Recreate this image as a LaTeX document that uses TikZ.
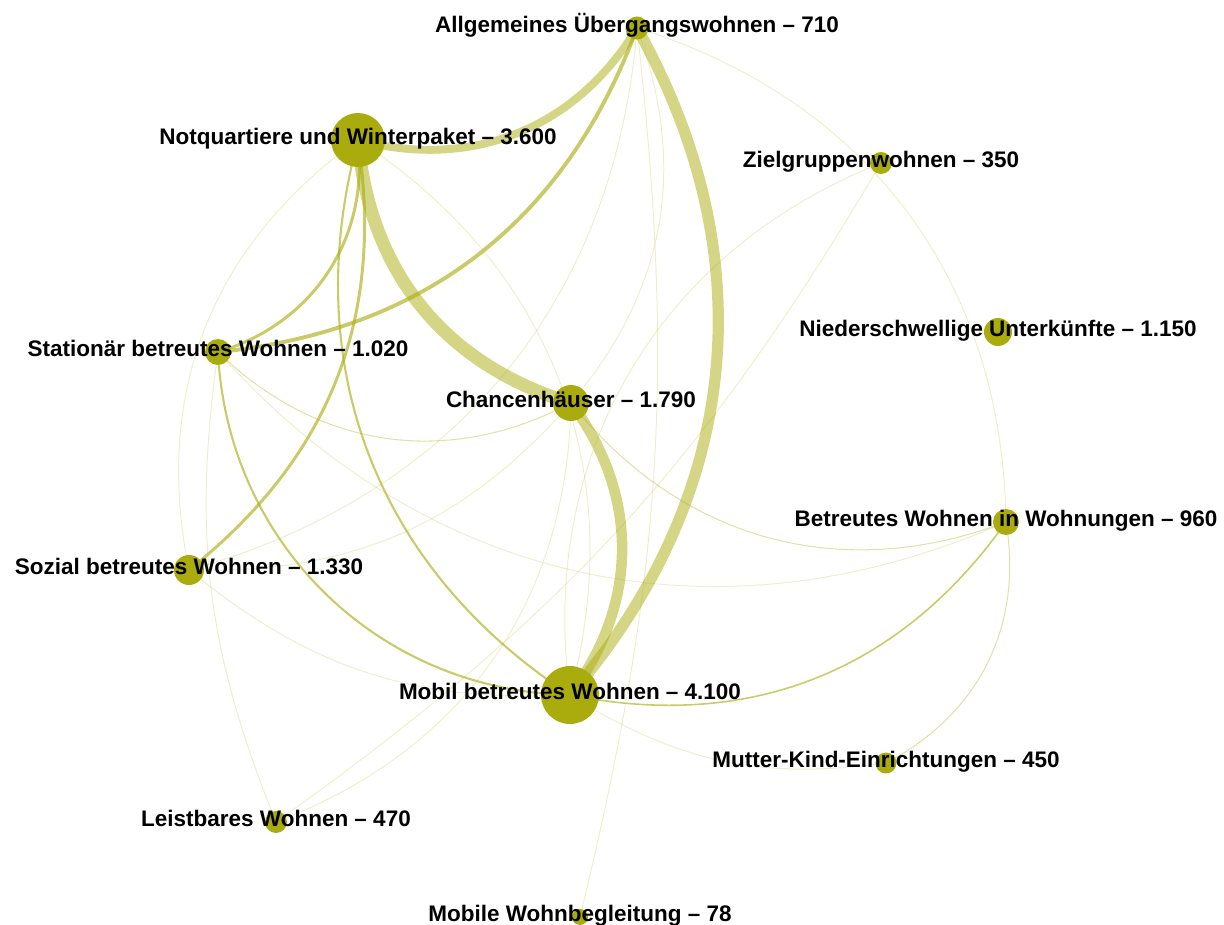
\documentclass[tikz,border=0pt]{standalone}
\usepackage{fontspec}
\setmainfont{Liberation Sans}
\definecolor{olv}{RGB}{170,171,12}
\pgfdeclarelayer{bg}
\pgfsetlayers{bg,main}
\tikzset{
  hub/.style={circle, fill=olv, inner sep=0pt, minimum size=#1*0.04cm},
  lbl/.style={anchor=base, yshift=-2.3pt, inner sep=0pt, font=\fontsize{12.8}{14}\selectfont\bfseries},
  lnk/.style={olv, line cap=round},
  thk/.style={lnk, draw opacity=0.5, line width=#1},
  med/.style={lnk, draw opacity=0.62, line width=#1},
  lite/.style={lnk, draw opacity=0.35, line width=0.6pt},
  fnt/.style={lnk, draw opacity=0.2, line width=0.55pt},
}

\begin{document}
\begin{tikzpicture}[x=0.02cm, y=-0.02cm]
  \useasboundingbox (0,0) rectangle (1224,925);
  % --- nodes ---
  \node[hub=11.5] (auw) at (637,28) {};
  \node[hub=27]   (nq)  at (358,140) {};
  \node[hub=11]   (zg)  at (881,163) {};
  \node[hub=14]   (ns)  at (998,332) {};
  \node[hub=13]   (st)  at (218,352) {};
  \node[hub=18]   (ch)  at (571,403) {};
  \node[hub=13]   (bww) at (1006,522) {};
  \node[hub=15]   (so)  at (189,570) {};
  \node[hub=29]   (mb)  at (570,695) {};
  \node[hub=10.5] (mk)  at (886,763) {};
  \node[hub=11]   (lw)  at (276,822) {};
  \node[hub=8]    (mwb) at (580,917) {};

  % --- labels ---
  \node[lbl] (auw-t) at (auw) {Allgemeines Übergangswohnen – 710};
  \node[lbl] (nq-t)  at (nq)  {Notquartiere und Winterpaket – 3.600};
  \node[lbl] (zg-t)  at (zg)  {Zielgruppenwohnen – 350};
  \node[lbl] (ns-t)  at (ns)  {Niederschwellige Unterkünfte – 1.150};
  \node[lbl] (st-t)  at (st)  {Stationär betreutes Wohnen – 1.020};
  \node[lbl] (ch-t)  at (ch)  {Chancenhäuser – 1.790};
  \node[lbl] (bww-t) at (bww) {Betreutes Wohnen in Wohnungen – 960};
  \node[lbl] (so-t)  at (so)  {Sozial betreutes Wohnen – 1.330};
  \node[lbl] (mb-t)  at (mb)  {Mobil betreutes Wohnen – 4.100};
  \node[lbl] (mk-t)  at (mk)  {Mutter-Kind-Einrichtungen – 450};
  \node[lbl] (lw-t)  at (lw)  {Leistbares Wohnen – 470};
  \node[lbl] (mwb-t) at (mwb) {Mobile Wohnbegleitung – 78};

  \begin{pgfonlayer}{bg}
    % --- heavy links ---
    \draw[thk=7.4pt] (nq.center) to[bend right=34] (ch.center);
    \draw[thk=6.4pt] (auw.center) to[bend left=35] (mb.center);
    \draw[thk=6pt]   (ch.center) to[bend left=37] (mb.center);
    \draw[thk=4.5pt] (nq.center) to[bend right=37] (auw.center);
    % --- medium links ---
    \draw[med=2.2pt] (auw.center) to[bend left=32] (st.center);
    \draw[med=1.7pt] (nq.center) to[bend left=40] (st.center);
    \draw[med=1.7pt] (nq.center) to[bend left=30] (so.center);
    \draw[med=1.2pt] (nq.center) to[bend right=36] (mb.center);
    \draw[med=1.2pt] (st.center) to[bend right=43] (mb.center);
    \draw[med=0.9pt] (mb.center) to[bend right=33] (bww.center);
    % --- light links ---
    \foreach \a/\b/\ang in {st/ch/-36, ch/bww/-36, bww/mk/36}
      \draw[lite] (\a.center) to[bend left=\ang] (\b.center);
    \foreach \a/\b/\ang in {so/ch/-25, auw/so/35, st/bww/-36, auw/bww/36,
        auw/mwb/10, mb/mk/-20, so/mb/-21, st/lw/-15, lw/zg/-12, lw/ch/-34,
        zg/mb/-38, nq/mb/36, so/nq/33, auw/ch/30}
      \draw[fnt] (\a.center) to[bend left=\ang] (\b.center);
  \end{pgfonlayer}
\end{tikzpicture}
\end{document}
